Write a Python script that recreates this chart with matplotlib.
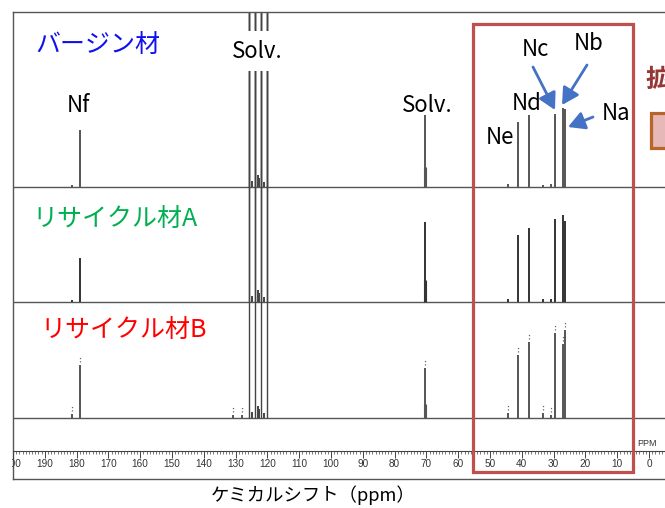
import matplotlib
matplotlib.use("Agg")
import matplotlib.pyplot as plt
from matplotlib.patches import Rectangle
from matplotlib.ticker import MultipleLocator

# ---- フォント設定 ----
plt.rcParams['font.family'] = ['Noto Sans CJK JP', 'DejaVu Sans']

# ---- データ（ppm / ピーク高さ） ----
peak_ppm = [181.4, 178.9, 130.8, 128.0, 70.4, 44.3, 41.3, 37.6, 33.3, 30.8, 29.6, 27.2, 26.5]
h_virgin = [2, 57, 0, 0, 72, 3, 65, 72, 2, 3, 73, 79, 78]
h_recA = [2, 44, 0, 0, 80, 3, 67, 74, 3, 3, 83, 87, 81]
h_recB = [4, 53, 3, 3, 50, 5, 63, 76, 5, 3, 85, 74, 88]

# 溶媒ピーク（スケールアウト）
solv_ppm = [125.7, 123.9, 122.1, 120.0]
solv_small_ppm = [124.8, 123.0, 122.6, 121.2]
solv_small_h = [6, 12, 9, 5]
# 70ppm 溶媒ピークの肩
shoulder_ppm = [70.75, 70.05]
shoulder_ratio = 0.28

samples = ['バージン材', 'リサイクル材A', 'リサイクル材B']
sample_colors = ['#1010f0', '#00b050', '#ff0000']
heights = [h_virgin, h_recA, h_recB]

W, H = 665, 508


def fp(x, y):
    """画像ピクセル座標 -> figure fraction"""
    return x / W, 1 - y / H


fig = plt.figure(figsize=(W / 100, H / 100), dpi=100)

# ---- スペクトル用の枠 ----
ax = fig.add_axes([13 / W, (H - 479) / H, (670 - 13) / W, (479 - 12) / H])
ax.set_xlim(200, 200 - 657 / 3.18)
ax.set_ylim(0, 467)
ax.set_xticks([])
ax.set_yticks([])
for sp in ax.spines.values():
    sp.set_color('#555555')
    sp.set_linewidth(1.0)

baselines = [479 - 187, 479 - 302, 479 - 418]
line_colors = ['#555555', '#333333', '#555555']

for base, hs, col in zip(baselines, heights, line_colors):
    ax.axhline(base, color='#555555', lw=1.0)
    tops = [base + h for h in hs]
    ax.vlines(peak_ppm, base, tops, color=col, lw=1.4)
    # 70ppm ピークの肩
    h70 = hs[peak_ppm.index(70.4)]
    ax.vlines(shoulder_ppm, base, base + h70 * shoulder_ratio, color=col, lw=0.8)
    # 溶媒ピーク
    ax.vlines(solv_ppm, base, base + 1000, color='#444444', lw=1.0)
    ax.vlines(solv_small_ppm, base, [base + h for h in solv_small_h], color='#444444', lw=1.4)

# ピークピッキングの印（リサイクル材B）
base = baselines[2]
ax.vlines(peak_ppm, [base + h + 3 for h in h_recB], [base + h + 9 for h in h_recB],
          color='#666666', lw=0.9, linestyles=':')

# ---- 目盛り（ルーラー） ----
ax_r = fig.add_axes([13 / W, (H - 451) / H, (670 - 13) / W, 0.0001])
ax_r.set_xlim(ax.get_xlim())
ax_r.patch.set_visible(False)
for k in ['top', 'left', 'right']:
    ax_r.spines[k].set_visible(False)
ax_r.spines['bottom'].set_color('#444444')
ax_r.spines['bottom'].set_linewidth(0.8)
ax_r.set_yticks([])
ax_r.xaxis.set_major_locator(MultipleLocator(10))
ax_r.xaxis.set_minor_locator(MultipleLocator(1))
ax_r.tick_params(axis='x', which='major', length=5, width=0.7, color='#444444',
                 labelsize=7.2, labelcolor='#333333', pad=1)
ax_r.tick_params(axis='x', which='minor', length=2.5, width=0.5, color='#444444')
for lbl in ax_r.get_xticklabels():
    lbl.set_family(['Liberation Sans', 'DejaVu Sans'])
ax_r.xaxis.set_major_formatter(plt.FuncFormatter(lambda v, p: '%d' % round(v)))

# 左端のはみ出しを隠す
fig.add_artist(Rectangle((0, 0), 12.4 / W, 0.2, transform=fig.transFigure,
                         fc='white', ec='none', zorder=20))

fig.text(*fp(647, 443), 'PPM', fontsize=6.5, color='#333333', ha='center', va='center',
         family=['Liberation Sans', 'DejaVu Sans'])

# ---- 試料名 ----
label_pos = [(35, 45), (32, 219), (40, 330)]
for name, col, (x, y) in zip(samples, sample_colors, label_pos):
    fig.text(*fp(x, y), name, fontsize=18, color=col, ha='left', va='center')

# ---- ピーク帰属 ----
txt = dict(fontsize=16, color='black', ha='center', va='center')
fig.text(*fp(78, 106), 'Nf', **txt)
fig.text(*fp(257, 51), 'Solv.', bbox=dict(fc='white', ec='none', pad=6), zorder=15, **txt)
fig.text(*fp(427, 106), 'Solv.', **txt)
fig.text(*fp(500, 138), 'Ne', **txt)
fig.text(*fp(527, 103), 'Nd', **txt)
fig.text(*fp(535, 50), 'Nc', **txt)
fig.text(*fp(589, 44), 'Nb', **txt)
fig.text(*fp(616, 113), 'Na', **txt)

arrow_blue = '#4472c4'
arrows = [((533, 67), (555, 110)), ((587, 65), (562, 105)), ((593, 117), (568, 127))]
for tail, tip in arrows:
    ax.annotate('', xy=fp(*tip), xytext=fp(*tail), xycoords='figure fraction',
                textcoords='figure fraction',
                arrowprops=dict(arrowstyle='-|>,head_length=1.0,head_width=0.55',
                                mutation_scale=10, lw=2, color=arrow_blue,
                                shrinkA=0, shrinkB=0))

# ---- 拡大枠 ----
x0, y0 = fp(473, 472)
x1, y1 = fp(633, 24)
fig.add_artist(Rectangle((x0, y0), x1 - x0, y1 - y0, transform=fig.transFigure,
                         fill=False, ec='#c0504d', lw=2.3, zorder=12))
fig.text(*fp(645, 79), '拡大', fontsize=18, fontweight='bold', color='#953735',
         ha='left', va='center')
bx0, by0 = fp(651, 148)
bx1, by1 = fp(700, 113)
fig.add_artist(Rectangle((bx0, by0), bx1 - bx0, by1 - by0, transform=fig.transFigure,
                         fc='#e6b8b7', ec='#b8652a', lw=2.3, zorder=12))

# ---- 横軸ラベル ----
fig.text(*fp(313, 495), 'ケミカルシフト（ppm）', fontsize=13.2, color='black',
         ha='center', va='center')

fig.savefig('out.png', dpi=100)
plt.close()
